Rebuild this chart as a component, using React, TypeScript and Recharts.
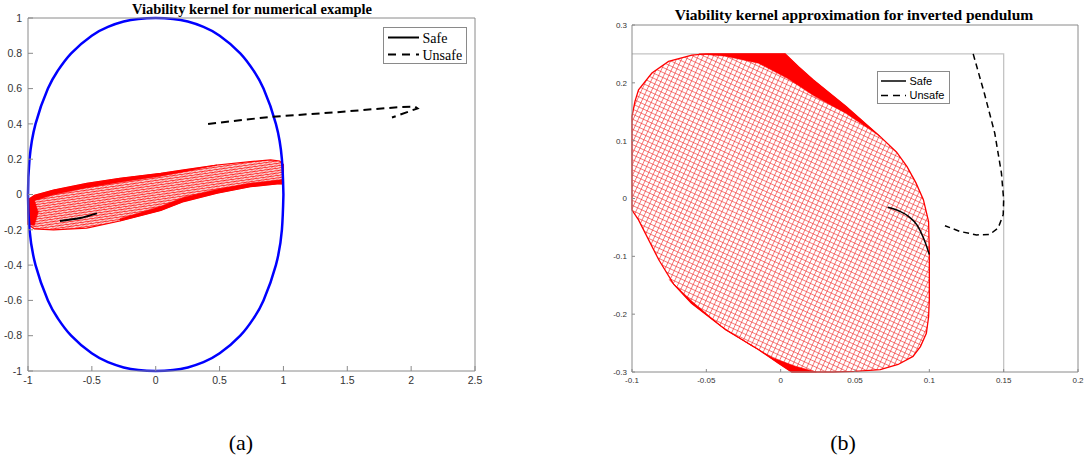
import { LineChart, Line, XAxis, YAxis } from "recharts";

type Pt = { x: number; y: number };
const toPts = (rows: number[][]): Pt[] => rows.map(([x, y]) => ({ x, y }));

// ---- (a) Viability kernel for numerical example ----
const xTicksA = [-1, -0.5, 0, 0.5, 1, 1.5, 2, 2.5];
const yTicksA = [-1, -0.8, -0.6, -0.4, -0.2, 0, 0.2, 0.4, 0.6, 0.8, 1];

const constraintA = toPts([
  [1, 0], [0.988, 0.2], [0.941, 0.4], [0.844, 0.6], [0.768, 0.7], [0.662, 0.8], [0.501, 0.9],
  [0.374, 0.95], [0.251, 0.98], [0.136, 0.995], [0, 1], [-0.136, 0.995], [-0.251, 0.98],
  [-0.374, 0.95], [-0.501, 0.9], [-0.662, 0.8], [-0.768, 0.7], [-0.844, 0.6], [-0.941, 0.4],
  [-0.988, 0.2], [-1, 0], [-0.988, -0.2], [-0.941, -0.4], [-0.844, -0.6], [-0.768, -0.7],
  [-0.662, -0.8], [-0.501, -0.9], [-0.374, -0.95], [-0.251, -0.98], [-0.136, -0.995], [0, -1],
  [0.136, -0.995], [0.251, -0.98], [0.374, -0.95], [0.501, -0.9], [0.662, -0.8], [0.768, -0.7],
  [0.844, -0.6], [0.941, -0.4], [0.988, -0.2], [1, 0],
]);

const kernelA = toPts([
  [-1, -0.03], [-0.95, -0.005], [-0.8, 0.025], [-0.54, 0.063], [-0.28, 0.092], [0.04, 0.12],
  [0.22, 0.139], [0.48, 0.167], [0.74, 0.186], [0.9, 0.196], [0.97, 0.19], [1, 0.17], [1, 0.06],
  [0.95, 0.06], [0.74, 0.044], [0.48, 0.007], [0.22, -0.04], [0.04, -0.09], [-0.28, -0.15],
  [-0.54, -0.19], [-0.8, -0.2], [-0.95, -0.195], [-1, -0.17], [-1, -0.03],
]);

const kernelATopEdge = toPts([
  [-1, -0.03], [-0.95, -0.005], [-0.8, 0.025], [-0.54, 0.063], [-0.28, 0.092], [0.04, 0.12],
  [0.22, 0.139], [0.48, 0.167], [0.22, 0.128], [0.04, 0.104], [-0.28, 0.07], [-0.54, 0.038],
  [-0.8, -0.002], [-0.95, -0.035], [-1, -0.055], [-1, -0.03],
]);

const kernelABottomEdge = toPts([
  [-0.28, -0.15], [0.04, -0.09], [0.22, -0.04], [0.48, 0.007], [0.74, 0.044], [0.95, 0.06],
  [1, 0.06], [1, 0.085], [0.74, 0.065], [0.48, 0.03], [0.22, -0.015], [0.04, -0.066],
  [-0.28, -0.137], [-0.28, -0.15],
]);

const kernelALeftEnd = toPts([
  [-1, -0.05], [-0.95, -0.03], [-0.92, -0.1], [-0.95, -0.175], [-1, -0.17], [-1, -0.05],
]);

const safeA = toPts([
  [-0.75, -0.15], [-0.68, -0.143], [-0.6, -0.135], [-0.53, -0.122], [-0.46, -0.107],
]);

const unsafeA = toPts([
  [0.41, 0.4], [0.9, 0.44], [1.4, 0.465], [1.9, 0.495], [2.03, 0.498], [2.05, 0.488], [1.85, 0.436],
]);

// ---- (b) Viability kernel approximation for inverted pendulum ----
const xTicksB = [-0.1, -0.05, 0, 0.05, 0.1, 0.15, 0.2];
const yTicksB = [-0.3, -0.2, -0.1, 0, 0.1, 0.2, 0.3];

const boxB = toPts([[-0.1, 0.25], [0.15, 0.25], [0.15, -0.3]]);

const kernelB = toPts([
  [-0.05, 0.25], [0.003, 0.25], [0.012, 0.228], [0.022, 0.205], [0.044, 0.159], [0.067, 0.107],
  [0.078, 0.08], [0.085, 0.055], [0.091, 0.027], [0.096, -0.002], [0.0995, -0.04], [0.1, -0.09],
  [0.1, -0.175], [0.0995, -0.205], [0.098, -0.233], [0.094, -0.256], [0.089, -0.273],
  [0.079, -0.287], [0.067, -0.296], [0.05, -0.299], [0.035, -0.3], [0.0075, -0.3],
  [-0.0015, -0.285], [-0.015, -0.261], [-0.037, -0.227], [-0.06, -0.181], [-0.072, -0.148],
  [-0.082, -0.106], [-0.0956, -0.037], [-0.1, -0.02], [-0.1, 0.142], [-0.098, 0.168],
  [-0.0956, 0.188], [-0.0866, 0.217], [-0.0754, 0.237], [-0.0597, 0.248], [-0.05, 0.25],
]);

const kernelBTopWedge = toPts([
  [-0.055, 0.25], [0.003, 0.25], [0.012, 0.228], [0.022, 0.205], [0.044, 0.159], [0.067, 0.107],
  [0.044, 0.147], [0.022, 0.178], [0.005, 0.207], [-0.015, 0.234], [-0.037, 0.246], [-0.055, 0.25],
]);

const kernelBBottomWedge = toPts([
  [-0.075, -0.14], [-0.06, -0.181], [-0.037, -0.227], [-0.015, -0.261], [-0.0015, -0.285],
  [0.0075, -0.3], [0.024, -0.3], [0.01, -0.29], [-0.005, -0.276], [-0.02, -0.254],
  [-0.04, -0.221], [-0.06, -0.177], [-0.075, -0.14],
]);

const safeB = toPts([
  [0.072, -0.015], [0.08, -0.022], [0.086, -0.031], [0.092, -0.047], [0.096, -0.068],
  [0.0985, -0.085], [0.1, -0.097],
]);

const unsafeB = toPts([
  [0.1295, 0.25], [0.137, 0.182], [0.144, 0.113], [0.1485, 0.044], [0.15, -0.002],
  [0.1497, -0.028], [0.1463, -0.051], [0.1407, -0.062], [0.1318, -0.063], [0.1206, -0.057],
  [0.1105, -0.047],
]);

const axisColor = "#8a8a8a";
const tickText = "#333";
const sans = "'Liberation Sans', Arial, sans-serif";
const serif = "'Liberation Serif', 'Times New Roman', serif";

const css = `
.meshA path.recharts-line-curve { fill: url(#patA); }
.meshB path.recharts-line-curve { fill: url(#patB); }
.solidRed path.recharts-line-curve { fill: #ff0000; }
`;

function LegendBox(props: {
  left: number; top: number; width: number; height: number;
  rows: { label: string; y: number; dash?: string }[];
  x1: number; x2: number; tx: number; font: string; size: number; sw: number;
}) {
  const { left, top, width, height, rows, x1, x2, tx, font, size, sw } = props;
  return (
    <svg
      width={width}
      height={height}
      style={{ position: "absolute", left, top, background: "#fff", border: "1px solid #8a8a8a", boxSizing: "border-box" }}
    >
      {rows.map((r) => (
        <g key={r.label}>
          <line x1={x1} x2={x2} y1={r.y} y2={r.y} stroke="#000" strokeWidth={sw} strokeDasharray={r.dash} />
          <text x={tx} y={r.y + size * 0.36} fontFamily={font} fontSize={size} fill="#000">
            {r.label}
          </text>
        </g>
      ))}
    </svg>
  );
}

export default function App() {
  return (
    <div style={{ position: "absolute", left: 0, top: 0, width: 1085, height: 459, background: "#fff", overflow: "hidden" }}>
      <style>{css}</style>
      <svg width={0} height={0} style={{ position: "absolute" }}>
        <defs>
          <pattern id="patA" patternUnits="userSpaceOnUse" width={5} height={2.4} patternTransform="rotate(-8)">
            <rect width={5} height={2.4} fill="#fad4d4" />
            <line x1={0} y1={1.2} x2={5} y2={1.2} stroke="#ff0000" strokeWidth={0.65} />
            <line x1={0} y1={2.4} x2={5} y2={0} stroke="#ff0000" strokeWidth={0.45} />
          </pattern>
          <pattern id="patB" patternUnits="userSpaceOnUse" width={4.6} height={4.6} patternTransform="rotate(25)">
            <rect width={4.6} height={4.6} fill="#ffffff" />
            <line x1={0} y1={2.3} x2={4.6} y2={2.3} stroke="#f02020" strokeWidth={0.55} />
            <line x1={2.3} y1={0} x2={2.3} y2={4.6} stroke="#f02020" strokeWidth={0.55} />
          </pattern>
        </defs>
      </svg>

      {/* (a) */}
      <div style={{ position: "absolute", left: 0, width: 504, top: 1, textAlign: "center", fontFamily: serif, fontWeight: "bold", fontSize: 14.5, lineHeight: "16px" }}>
        Viability kernel for numerical example
      </div>
      <div style={{ position: "absolute", left: 0, top: 0 }}>
        <LineChart width={500} height={401} margin={{ top: 17, right: 24, bottom: 0, left: 0 }}>
          <XAxis
            dataKey="x" type="number" domain={[-1, 2.5]} ticks={xTicksA} interval={0}
            height={30} tickSize={-5} tickMargin={11} stroke={axisColor}
            tick={{ fill: tickText, fontSize: 10.5, fontFamily: sans }}
          />
          <XAxis xAxisId="top" orientation="top" type="number" domain={[-1, 2.5]} ticks={xTicksA}
            interval={0} height={1} tickSize={-5} tick={false} stroke={axisColor} allowDataOverflow />
          <YAxis
            type="number" domain={[-1, 1]} ticks={yTicksA} interval={0} width={28}
            tickSize={-5} tickMargin={11} stroke={axisColor}
            tick={{ fill: tickText, fontSize: 10.5, fontFamily: sans }}
          />
          <YAxis yAxisId="right" orientation="right" type="number" domain={[-1, 1]} ticks={yTicksA}
            interval={0} width={1} tickSize={-5} tick={false} stroke={axisColor} allowDataOverflow />
          <Line className="meshA" data={kernelA} dataKey="y" type="linear" stroke="#ff0000" strokeWidth={1.2} dot={false} isAnimationActive={false} />
          <Line className="solidRed" data={kernelATopEdge} dataKey="y" type="linear" stroke="#ff0000" strokeWidth={0.5} dot={false} isAnimationActive={false} />
          <Line className="solidRed" data={kernelABottomEdge} dataKey="y" type="linear" stroke="#ff0000" strokeWidth={0.5} dot={false} isAnimationActive={false} />
          <Line className="solidRed" data={kernelALeftEnd} dataKey="y" type="linear" stroke="#ff0000" strokeWidth={0.5} dot={false} isAnimationActive={false} />
          <Line data={constraintA} dataKey="y" type="natural" stroke="#0000ff" strokeWidth={2.5} dot={false} isAnimationActive={false} />
          <Line data={safeA} dataKey="y" type="monotone" stroke="#000" strokeWidth={2} dot={false} isAnimationActive={false} />
          <Line data={unsafeA} dataKey="y" type="linear" stroke="#000" strokeWidth={2} strokeDasharray="8 5" dot={false} isAnimationActive={false} />
        </LineChart>
      </div>
      <LegendBox
        left={383} top={27} width={84} height={37}
        rows={[{ label: "Safe", y: 9.5 }, { label: "Unsafe", y: 26.5, dash: "8 6" }]}
        x1={4} x2={35} tx={38.5} font={serif} size={14} sw={2}
      />
      <div style={{ position: "absolute", left: 0, width: 482, top: 430, textAlign: "center", fontFamily: serif, fontSize: 22, lineHeight: "26px" }}>
        (a)
      </div>

      {/* (b) */}
      <div style={{ position: "absolute", left: 600, width: 508, top: 6, textAlign: "center", fontFamily: serif, fontWeight: "bold", fontSize: 15.5, lineHeight: "18px" }}>
        Viability kernel approximation for inverted pendulum
      </div>
      <div style={{ position: "absolute", left: 600, top: 0 }}>
        <LineChart width={485} height={402} margin={{ top: 24, right: 6, bottom: 0, left: 0 }}>
          <XAxis
            dataKey="x" type="number" domain={[-0.1, 0.2]} ticks={xTicksB} interval={0}
            height={30} tickSize={-3} tickMargin={8} stroke={axisColor}
            tick={{ fill: tickText, fontSize: 8, fontFamily: sans }}
          />
          <XAxis xAxisId="top" orientation="top" type="number" domain={[-0.1, 0.2]} ticks={xTicksB}
            interval={0} height={1} tickSize={-3} tick={false} stroke={axisColor} allowDataOverflow />
          <YAxis
            type="number" domain={[-0.3, 0.3]} ticks={yTicksB} interval={0} width={32}
            tickSize={-3} tickMargin={8} stroke={axisColor}
            tick={{ fill: tickText, fontSize: 8, fontFamily: sans }}
          />
          <YAxis yAxisId="right" orientation="right" type="number" domain={[-0.3, 0.3]} ticks={yTicksB}
            interval={0} width={1} tickSize={-3} tick={false} stroke={axisColor} allowDataOverflow />
          <Line data={boxB} dataKey="y" type="linear" stroke="#c4c4c4" strokeWidth={1.3} dot={false} isAnimationActive={false} />
          <Line className="meshB" data={kernelB} dataKey="y" type="linear" stroke="#ff0000" strokeWidth={1.3} dot={false} isAnimationActive={false} />
          <Line className="solidRed" data={kernelBTopWedge} dataKey="y" type="linear" stroke="#ff0000" strokeWidth={0.5} dot={false} isAnimationActive={false} />
          <Line className="solidRed" data={kernelBBottomWedge} dataKey="y" type="linear" stroke="#ff0000" strokeWidth={0.5} dot={false} isAnimationActive={false} />
          <Line data={safeB} dataKey="y" type="monotone" stroke="#000" strokeWidth={1.5} dot={false} isAnimationActive={false} />
          <Line data={unsafeB} dataKey="y" type="linear" stroke="#000" strokeWidth={1.5} strokeDasharray="6 4" dot={false} isAnimationActive={false} />
        </LineChart>
      </div>
      <LegendBox
        left={877} top={71} width={73} height={33}
        rows={[{ label: "Safe", y: 9 }, { label: "Unsafe", y: 23.5, dash: "7 5" }]}
        x1={3} x2={28} tx={31.5} font={sans} size={11} sw={1.5}
      />
      <div style={{ position: "absolute", left: 600, width: 486, top: 430, textAlign: "center", fontFamily: serif, fontSize: 22, lineHeight: "26px" }}>
        (b)
      </div>
    </div>
  );
}
